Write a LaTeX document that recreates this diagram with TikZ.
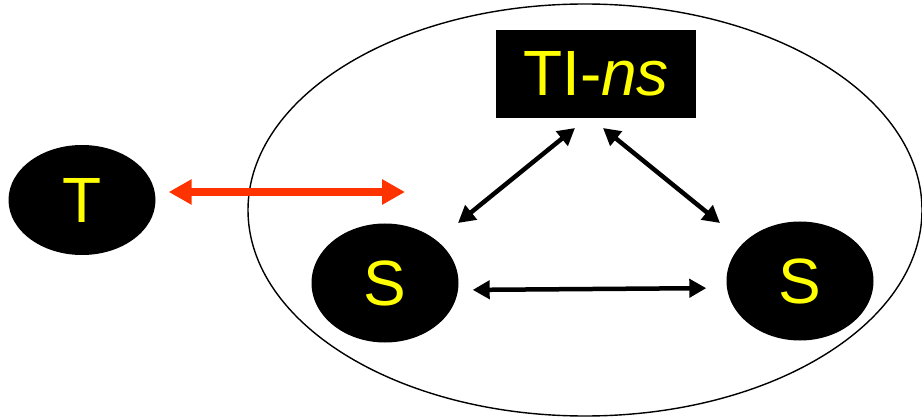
\documentclass[tikz,border=0pt]{standalone}
\usepackage{fontspec}
\setmainfont{Liberation Sans}
\usetikzlibrary{arrows.meta,shapes.geometric}
\definecolor{tomato}{RGB}{255,51,0}
\definecolor{lbl}{RGB}{255,255,0}
\tikzset{
  blob/.style={ellipse, fill=black, text=lbl, minimum width=147pt, minimum height=119pt, inner sep=0pt, font=\fontsize{64}{64}\selectfont},
  namebox/.style={rectangle, fill=black, text=lbl, minimum width=200pt, minimum height=88pt, inner sep=0pt, font=\fontsize{64}{64}\selectfont},
  redlink/.style={tomato, line width=8pt, {Triangle[length=23pt,width=24pt]}-{Triangle[length=23pt,width=24pt]}},
  blacklink/.style={black, line width=4.5pt, {Triangle[length=17pt,width=18pt]}-{Triangle[length=17pt,width=18pt]}},
}
\begin{document}
\begin{tikzpicture}[x=1pt,y=-1pt]
\useasboundingbox (0,0) rectangle (922,417);
% enclosing group
\draw[line width=1.4pt] (585,210) ellipse [x radius=337, y radius=206];
% nodes
\node[blob, minimum height=110pt] (t) at (82,200) {T};
\node[blob] (s1) at (385,283) {S};
\node[blob] (s2) at (800,281) {S};
\node[namebox] (tins) at (596,74) {TI-\textit{ns}};
% arrow end points
\coordinate (rend) at (405,192);
\coordinate (tl) at (575,128);
\coordinate (tr) at (603,128);
\coordinate (sl) at (458,223);
\coordinate (sr) at (720,223);
% connectors
\draw[redlink] ([xshift=13]t.east |- rend) -- (rend);
\draw[blacklink] (tl) -- (sl);
\draw[blacklink] (tr) -- (sr);
\draw[blacklink, shorten <=14pt, shorten >=20pt] ([yshift=-7]s1.east) -- ([yshift=-7]s2.west);
\end{tikzpicture}
\end{document}
